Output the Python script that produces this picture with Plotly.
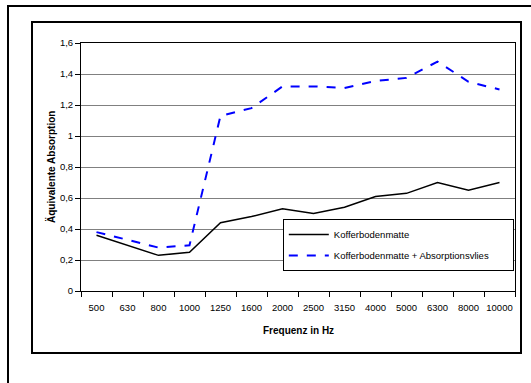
import plotly.graph_objects as go

freqs = ["500", "630", "800", "1000", "1250", "1600", "2000", "2500", "3150",
         "4000", "5000", "6300", "8000", "10000"]
koffer = [0.36, 0.295, 0.23, 0.25, 0.44, 0.48, 0.53, 0.50, 0.54, 0.61, 0.63, 0.70, 0.65, 0.70]
koffer_vlies = [0.38, 0.33, 0.28, 0.295, 1.13, 1.18, 1.32, 1.32, 1.31, 1.355, 1.375, 1.48, 1.35, 1.30]
y_ticks = [0, 0.2, 0.4, 0.6, 0.8, 1.0, 1.2, 1.4, 1.6]
y_ticktext = ["0", "0,2", "0,4", "0,6", "0,8", "1", "1,2", "1,4", "1,6"]
series_names = ["Kofferbodenmatte", "Kofferbodenmatte + Absorptionsvlies"]

W, H = 531, 383
L, R, T, B = 81, 16, 43, 92
PAD = "\u00a0" * 7

fig = go.Figure()
fig.add_trace(go.Scatter(x=freqs, y=koffer, mode="lines", name=series_names[0],
                         line=dict(color="black", width=1.5), legendgroup="a"))
fig.add_trace(go.Scatter(x=freqs, y=koffer_vlies, mode="lines",
                         name=series_names[1] + PAD,
                         line=dict(color="#0000ff", width=2, dash="dash"), legendgroup="b"))

fig.update_layout(
    width=W, height=H,
    margin=dict(l=L, r=R, t=T, b=B, autoexpand=False),
    paper_bgcolor="white", plot_bgcolor="white",
    font=dict(family="Liberation Sans, Arial, sans-serif", color="black", size=9),
    showlegend=True,
    legend=dict(x=0.465, y=0.29, xanchor="left", yanchor="top",
                bgcolor="white", bordercolor="black", borderwidth=1,
                font=dict(size=9.5), tracegroupgap=2, traceorder="grouped",
                itemwidth=40),
    xaxis=dict(type="category", range=[-0.5, 13.5], showgrid=False,
               tickson="boundaries", ticks="outside", ticklen=5, tickcolor="black",
               showline=True, linecolor="black", linewidth=1, mirror=True,
               tickfont=dict(size=9.5), tickangle=0, automargin=False, zeroline=False,
               ticklabelstandoff=8),
    yaxis=dict(range=[0, 1.6], tickvals=y_ticks, ticktext=y_ticktext,
               ticks="outside", ticklen=5, tickcolor="black",
               showgrid=True, gridcolor="#808080", gridwidth=1,
               showline=True, linecolor="black", linewidth=1, mirror=True,
               tickfont=dict(size=9.5), automargin=False, zeroline=False),
    annotations=[
        dict(text="<b>Frequenz in Hz</b>", xref="paper", yref="paper", x=0.5, y=0,
             xanchor="center", yanchor="middle", yshift=-39, showarrow=False,
             font=dict(size=10)),
        dict(text="<b>Äquivalente Absorption</b>", xref="paper", yref="paper", x=0, y=0.5,
             xanchor="center", yanchor="middle", xshift=-30, showarrow=False,
             textangle=-90, font=dict(size=10)),
    ],
    shapes=[
        dict(type="rect", xref="paper", yref="paper",
             x0=(32 - L) / (W - L - R), x1=(521 - L) / (W - L - R),
             y0=(H - B - 353) / (H - T - B), y1=(H - B - 22) / (H - T - B),
             line=dict(color="black", width=2), layer="below"),
        dict(type="rect", xref="paper", yref="paper",
             x0=(8 - L) / (W - L - R), x1=(540 - L) / (W - L - R),
             y0=(H - B - 400) / (H - T - B), y1=(H - B - 6) / (H - T - B),
             line=dict(color="black", width=2), layer="below"),
    ],
)

fig.write_html("out.html", config={"displayModeBar": False},
               post_script="document.body.style.margin='0';document.body.style.overflow='hidden';")
